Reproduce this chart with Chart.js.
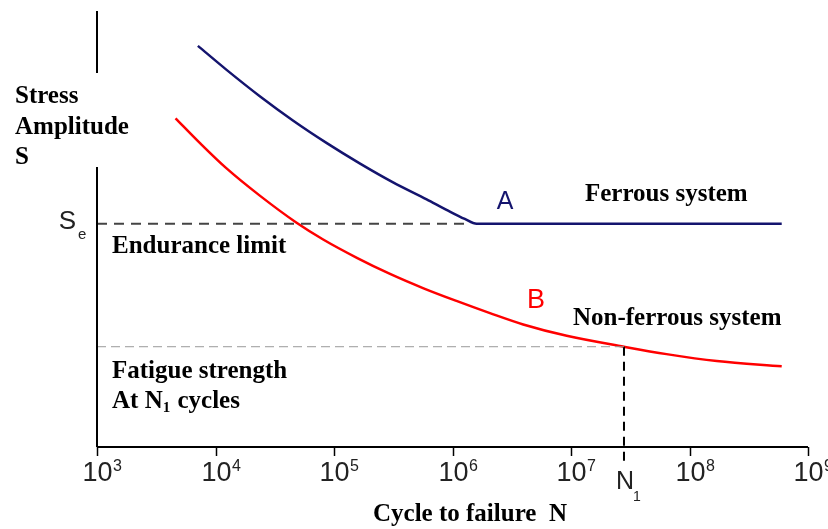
<!DOCTYPE html>
<html>
<head>
<meta charset="utf-8">
<script src="https://cdn.jsdelivr.net/npm/chart.js@4/dist/chart.umd.min.js"></script>
<style>
  body { margin: 0; background: #fff; }
  #wrap { width: 828px; height: 529px; }
</style>
</head>
<body>
<div id="wrap"><canvas id="sn" width="828" height="529"></canvas></div>
<script>
// S-N curves (y in arbitrary stress units, 0..100)
const cyclesA = [7.1e3, 1.24e4, 2.38e4, 4.5e4, 8.7e4, 1.66e5, 3.15e5, 6.05e5, 8.9e5, 1.27e6, 1.6e6, 6.0e8];
const stressA = [92.0, 86.5, 80.4, 74.9, 69.7, 65.0, 60.7, 56.8, 54.4, 52.3, 51.2, 51.2];

const cyclesB = [4.6e3, 7.4e3, 1.24e4, 2.38e4, 4.8e4, 8.1e4, 1.56e5, 2.97e5, 5.7e5, 1.08e6, 2.07e6, 3.95e6, 9.2e6, 2.8e7, 6.4e7, 1.7e8, 6.0e8];
const stressB = [75.4, 69.7, 63.9, 57.6, 51.5, 47.6, 43.4, 39.7, 36.4, 33.5, 30.7, 28.1, 25.5, 23.0, 21.3, 19.7, 18.5];

const enduranceLimit = 51.2;   // S_e
const N1 = 2.8e7;
const fatigueAtN1 = 23.0;
const exponents = [3, 4, 5, 6, 7, 8, 9];

function pts(xs, ys) {
    return xs.map((x, i) => ({ x: x, y: ys[i] }));
}

function txt(ctx, s, x, y, font, color, align) {
    ctx.font = font;
    ctx.fillStyle = color || '#000';
    ctx.textAlign = align || 'left';
    ctx.textBaseline = 'middle';
    ctx.fillText(s, x, y);
}

const SERIF = "bold 25px 'Liberation Serif'";
const SANS = "'Liberation Sans'";

const axesPlugin = {
    id: 'axesAndNotes',
    afterDraw(chart) {
        const ctx = chart.ctx;
        const xs = chart.scales.x;
        const ys = chart.scales.y;
        const a = chart.chartArea;
        ctx.save();

        // y axis, broken around its title
        ctx.strokeStyle = '#000';
        ctx.lineWidth = 2;
        ctx.beginPath();
        ctx.moveTo(a.left, a.top);
        ctx.lineTo(a.left, 73);
        ctx.moveTo(a.left, 167);
        ctx.lineTo(a.left, a.bottom);
        // x axis
        ctx.moveTo(a.left, a.bottom);
        ctx.lineTo(a.right, a.bottom);
        ctx.stroke();

        // decade ticks + labels 10^k
        ctx.lineWidth = 1.5;
        exponents.forEach(e => {
            const x = Math.round(xs.getPixelForValue(Math.pow(10, e))) + 0.5;
            ctx.beginPath();
            ctx.moveTo(x, a.bottom);
            ctx.lineTo(x, a.bottom + 9);
            ctx.stroke();
            ctx.font = "27px " + SANS;
            const w = ctx.measureText('10').width;
            txt(ctx, '10', x, 474, "27px " + SANS, '#222', 'center');
            txt(ctx, String(e), x + w / 2 + 0.5, 467, "16px " + SANS, '#222', 'left');
        });

        // y axis title
        txt(ctx, 'Stress', 15, 97, SERIF);
        txt(ctx, 'Amplitude', 15, 128, SERIF);
        txt(ctx, 'S', 15, 158, SERIF);

        // S_e
        const ySe = ys.getPixelForValue(enduranceLimit);
        txt(ctx, 'S', 76, ySe - 2, "26px " + SANS, '#222', 'right');
        txt(ctx, 'e', 78, ySe + 11, "15px " + SANS, '#222', 'left');
        txt(ctx, 'Endurance limit', 112, ySe + 23, SERIF);

        // fatigue strength note
        txt(ctx, 'Fatigue strength', 112, 372, SERIF);
        ctx.font = SERIF;
        const wAt = ctx.measureText('At N').width;
        txt(ctx, 'At N', 112, 402, SERIF);
        txt(ctx, '1', 112 + wAt, 408, "bold 15px 'Liberation Serif'");
        const w1 = ctx.measureText('1').width;
        txt(ctx, ' cycles', 112 + wAt + w1 + 1, 402, SERIF);

        // curve names
        txt(ctx, 'A', 505, 202, "25px " + SANS, '#14146e', 'center');
        txt(ctx, 'Ferrous system', 585, 195, SERIF);
        txt(ctx, 'B', 536, 301, "27px " + SANS, '#ff0000', 'center');
        txt(ctx, 'Non-ferrous system', 573, 319, SERIF);

        // N1 label
        const xN = xs.getPixelForValue(N1);
        txt(ctx, 'N', xN + 1, 482, "25px " + SANS, '#222', 'center');
        txt(ctx, '1', xN + 9, 497, "14px " + SANS, '#222', 'left');

        // x axis title
        txt(ctx, 'Cycle to failure  N', 373, 515, SERIF);
        ctx.restore();
    }
};

new Chart(document.getElementById('sn'), {
    type: 'line',
    data: {
        datasets: [
            {
                label: 'Endurance limit',
                data: [{ x: 1000, y: enduranceLimit }, { x: 1.27e6, y: enduranceLimit }],
                borderColor: '#444',
                borderWidth: 2,
                borderDash: [10, 7],
                pointRadius: 0
            },
            {
                label: 'Fatigue strength',
                data: [{ x: 1000, y: fatigueAtN1 }, { x: N1, y: fatigueAtN1 }],
                borderColor: '#999',
                borderWidth: 1,
                borderDash: [9, 5],
                pointRadius: 0
            },
            {
                label: 'N1',
                data: [{ x: N1, y: fatigueAtN1 }, { x: N1, y: -3.7 }],
                borderColor: '#000',
                borderWidth: 2,
                borderDash: [9, 6],
                pointRadius: 0,
                clip: false
            },
            {
                label: 'A - Ferrous system',
                data: pts(cyclesA, stressA),
                borderColor: '#14146e',
                borderWidth: 2.5,
                pointRadius: 0,
                cubicInterpolationMode: 'monotone'
            },
            {
                label: 'B - Non-ferrous system',
                data: pts(cyclesB, stressB),
                borderColor: '#ff0000',
                borderWidth: 2.5,
                pointRadius: 0,
                cubicInterpolationMode: 'monotone'
            }
        ]
    },
    options: {
        responsive: false,
        animation: false,
        layout: { padding: { left: 97, right: 20, top: 11, bottom: 82 } },
        plugins: { legend: { display: false }, tooltip: { enabled: false } },
        scales: {
            x: { type: 'logarithmic', min: 1000, max: 1e9, display: false },
            y: { type: 'linear', min: 0, max: 100, display: false }
        }
    },
    plugins: [axesPlugin]
});
</script>
</body>
</html>
